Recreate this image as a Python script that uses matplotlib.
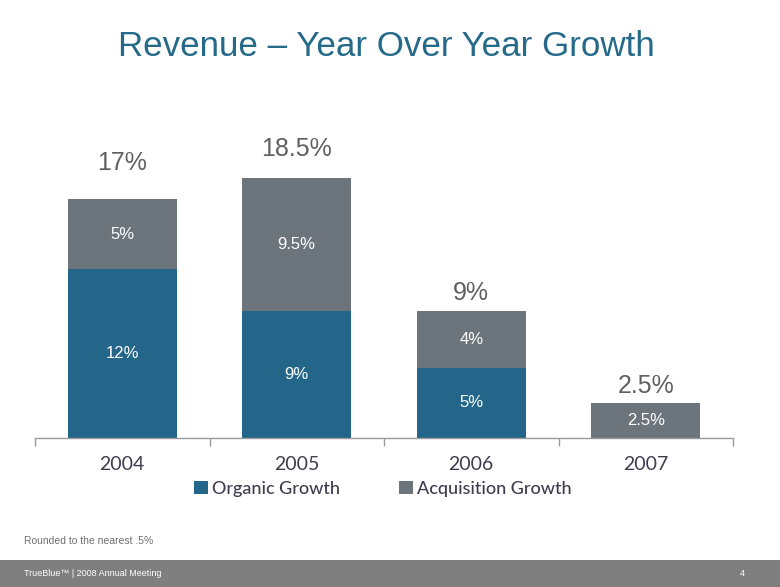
import matplotlib
matplotlib.use("Agg")
import matplotlib.pyplot as plt
from matplotlib.patches import Rectangle
from matplotlib.font_manager import FontProperties
import numpy as np

years = ["2004", "2005", "2006", "2007"]
organic = [12, 9, 5, 0]
acquisition = [5, 9.5, 4, 2.5]
totals = [17, 18.5, 9, 2.5]
organic_labels = ["12%", "9%", "5%", ""]
acq_labels = ["5%", "9.5%", "4%", "2.5%"]
total_labels = ["17%", "18.5%", "9%", "2.5%"]
total_offsets = [26, 21, 13, 12]  # points above bar top

C_ORG = "#246689"
C_ACQ = "#6d757c"
C_TITLE = "#266a8a"
C_TOT = "#606060"
C_AX = "#3d3d4f"

W, H = 780, 587
fig = plt.figure(figsize=(W / 100, H / 100), dpi=100)
fig.patch.set_facecolor("white")

px_per_unit = 14.06
ymax = 24
ax_h = ymax * px_per_unit
ax = fig.add_axes([35 / W, (H - 438) / H, 698 / W, ax_h / H])
x = np.arange(len(years))
bw = 0.625
ax.bar(x, organic, bw, color=C_ORG, label="Organic Growth", zorder=2)
ax.bar(x, acquisition, bw, bottom=organic, color=C_ACQ, label="Acquisition Growth", zorder=2)
ax.set_xlim(-0.5, 3.5)
ax.set_ylim(0, ymax)
for s in ["top", "right", "left"]:
    ax.spines[s].set_visible(False)
ax.spines["bottom"].set_color("#9a9a9a")
ax.spines["bottom"].set_linewidth(1.0)
ax.set_yticks([])
ax.set_xticks(x)
ax.set_xticklabels(years, fontsize=14, color=C_AX, family=["Lato", "DejaVu Sans"])
ax.tick_params(axis="x", which="major", length=0, pad=13)
ax.set_xticks(np.arange(-0.5, 4, 1), minor=True)
ax.tick_params(axis="x", which="minor", length=6, color="#9a9a9a", width=1)

for i in range(len(years)):
    if organic[i] > 0:
        ax.text(x[i], organic[i] / 2, organic_labels[i], ha="center", va="center",
                color="white", fontsize=12, family="Liberation Sans")
    ax.text(x[i], organic[i] + acquisition[i] / 2, acq_labels[i], ha="center", va="center",
            color="white", fontsize=12, family="Liberation Sans")
    ax.annotate(total_labels[i], (x[i], totals[i]), xytext=(0, total_offsets[i]),
                textcoords="offset points", ha="center", va="center",
                color=C_TOT, fontsize=18, family="Liberation Sans")

leg = fig.legend(loc="center", bbox_to_anchor=(383 / W, 1 - 489 / H), ncol=2,
                 frameon=False, handlelength=0.75, handleheight=0.75, handletextpad=0.25,
                 columnspacing=3.25, prop={"family": "Lato", "size": 13, "weight": "medium"})
for t in leg.get_texts():
    t.set_color(C_AX)

fig.text(0.5 - 3.5 / W, 1 - 46 / H, "Revenue \u2013 Year Over Year Growth", ha="center", va="center",
         fontsize=25.2, color=C_TITLE, family="Liberation Sans")

narrow = FontProperties(family=["Liberation Sans Narrow", "Liberation Sans"], stretch="condensed", size=7.5)
fig.text(24 / W, 1 - 541 / H, "Rounded to the nearest .5%", ha="left", va="center",
         color="#707070", fontproperties=narrow)

fig.patches.append(Rectangle((0, 0), 1, 27 / H, transform=fig.transFigure,
                             facecolor="#7f7f7f", edgecolor="none", zorder=0))
narrow_s = FontProperties(family=["Liberation Sans Narrow", "Liberation Sans"], stretch="condensed", size=6.5)
fig.text(24 / W, 1 - 573 / H, "TrueBlue\u2122 | 2008 Annual Meeting", ha="left", va="center",
         color="white", fontproperties=narrow_s)
fig.text(740 / W, 1 - 573 / H, "4", ha="left", va="center",
         color="white", fontproperties=narrow_s)

fig.savefig("out.png", dpi=100)
